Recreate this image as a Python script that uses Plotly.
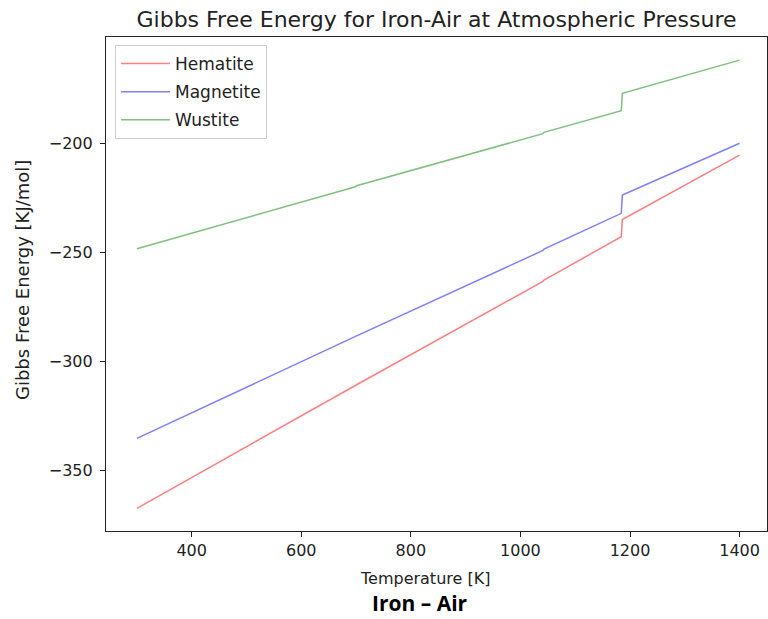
import plotly.graph_objects as go

# Temperature breakpoints [K]
temps = [300, 699, 701, 1041, 1043, 1184, 1186, 1400]
hematite = [-367.2, -311.2, -310.6, -263.3, -262.7, -242.8, -234.9, -205.4]
magnetite = [-335.2, -288.8, -288.2, -249.1, -248.5, -232.1, -223.7, -200.0]
wustite = [-248.3, -219.9, -219.4, -195.6, -195.0, -185.1, -177.1, -161.9]

series = [("Hematite", hematite, "rgba(255,0,0,0.5)"),
          ("Magnetite", magnetite, "rgba(0,0,255,0.5)"),
          ("Wustite", wustite, "rgba(0,128,0,0.5)")]

x_ticks = [400, 600, 800, 1000, 1200, 1400]
y_ticks = [-350, -300, -250, -200]

FONT = "DejaVu Sans"
fig = go.Figure()
for name, vals, col in series:
    fig.add_trace(go.Scatter(x=temps, y=vals, mode="lines", name=name,
                             legendgroup=name,
                             line=dict(color=col, width=1.5)))

L, R, T, B = 106, 767, 37, 531
W, H = 768, 619
ph = B - T
pw = R - L

axis_common = dict(showgrid=False, zeroline=False, showline=True, linecolor="#222",
                   linewidth=1.2, mirror=True, ticks="outside", ticklen=5,
                   tickwidth=1.2, tickcolor="#222",
                   tickfont=dict(family=FONT, size=16, color="#222"))

fig.update_layout(
    width=W, height=H,
    margin=dict(l=L, r=W - R, t=T, b=H - B),
    paper_bgcolor="white", plot_bgcolor="white",
    title=dict(text="Gibbs Free Energy for Iron-Air at Atmospheric Pressure",
               x=(L + R) / 2 / W, xanchor="center", y=1 - 19 / H, yanchor="middle",
               font=dict(family=FONT, size=22, color="#222")),
    xaxis=dict(range=[243.6, 1450], tickvals=x_ticks, **axis_common),
    yaxis=dict(range=[-377.6, -151.3], tickvals=y_ticks, ticklabelstandoff=4,
               **axis_common),
    showlegend=True,
    legend=dict(x=(115 - L) / pw, y=(B - 45) / ph, xanchor="left", yanchor="top",
                bgcolor="white", bordercolor="#ccc", borderwidth=1,
                font=dict(family=FONT, size=17, color="#222"),
                itemwidth=49, tracegroupgap=3),
    annotations=[
        dict(text="Temperature [K]", xref="paper", yref="paper",
             x=(425 - L) / pw, y=(B - 578) / ph, xanchor="center", yanchor="middle",
             showarrow=False, font=dict(family=FONT, size=16, color="#222")),
        dict(text="Gibbs Free Energy [KJ/mol]", xref="paper", yref="paper",
             x=(22 - L) / pw, y=(B - 280) / ph, xanchor="center", yanchor="middle",
             textangle=-90, showarrow=False,
             font=dict(family=FONT, size=18, color="#222")),
        dict(text="<b>Iron – Air</b>", xref="paper", yref="paper",
             x=(420 - L) / pw, y=(B - 603) / ph, xanchor="center", yanchor="middle",
             showarrow=False, font=dict(family="Open Sans", size=21, color="black")),
    ],
)

fig.write_html("out.html")
